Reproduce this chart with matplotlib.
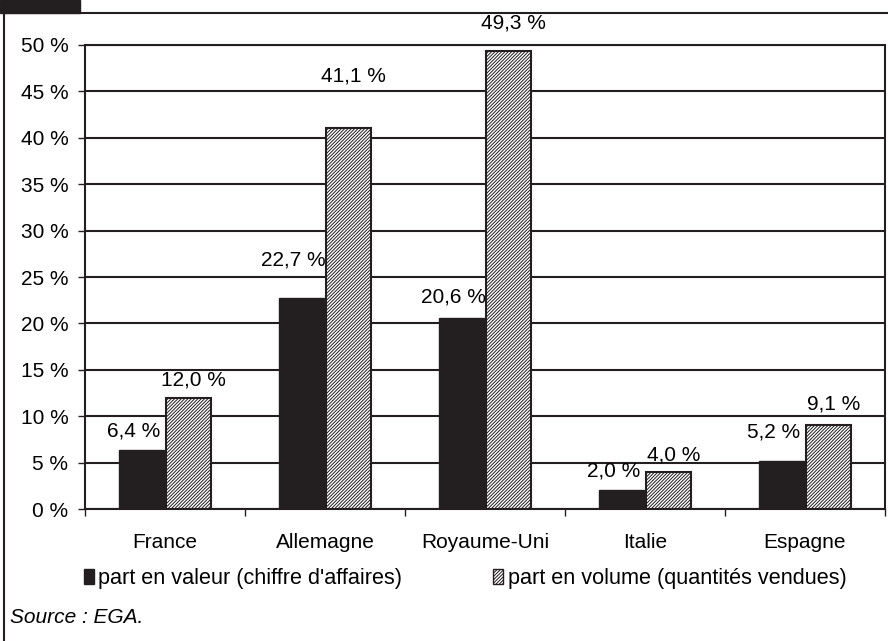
import matplotlib.pyplot as plt
import matplotlib.patches as mpatches
import numpy as np

plt.rcParams['font.family'] = ['Liberation Sans', 'DejaVu Sans']
plt.rcParams['hatch.linewidth'] = 0.7

pays = ['France', 'Allemagne', 'Royaume-Uni', 'Italie', 'Espagne']
part_valeur = [6.4, 22.7, 20.6, 2.0, 5.2]
part_volume = [12.0, 41.1, 49.3, 4.0, 9.1]
label_valeur = 'part en valeur (chiffre d\'affaires)'
label_volume = 'part en volume (quantités vendues)'
source = 'Source : EGA.'

# how far above each bar top the value label sits (points)
off_valeur = [6.5, 21, 8, 7, 14]
off_volume = [6, 30, 14, 5, 8]

dark = '#231f20'
fs = 15
hatch = '//////////'

fig = plt.figure(figsize=(8.88, 6.41), dpi=100)
ax = fig.add_axes([0.0957, 0.2059, 0.9009, 0.7239])

x = np.arange(len(pays))
w = 0.28
b1 = ax.bar(x - 0.147, part_valeur, w, color=dark, edgecolor=dark, linewidth=1, zorder=3)
b2 = ax.bar(x + 0.147, part_volume, w, color='white', edgecolor=dark, hatch=hatch,
            linewidth=1.5, zorder=3)

for bar, v, o in zip(b1, part_valeur, off_valeur):
    ax.annotate(f'{v:.1f} %'.replace('.', ','), (bar.get_x() + bar.get_width() / 2 - 0.05, v),
                xytext=(0, o), textcoords='offset points', ha='center', va='bottom', fontsize=fs)
for bar, v, o in zip(b2, part_volume, off_volume):
    ax.annotate(f'{v:.1f} %'.replace('.', ','), (bar.get_x() + bar.get_width() / 2 + 0.03, v),
                xytext=(0, o), textcoords='offset points', ha='center', va='bottom', fontsize=fs)

ax.set_xlim(-0.5, len(pays) - 0.5)
ax.set_ylim(0, 50)
ax.set_yticks(range(0, 51, 5))
ax.set_yticklabels([f'{t} %' for t in range(0, 51, 5)], fontsize=fs)
ax.grid(axis='y', color=dark, linewidth=1.5, zorder=1)
ax.set_axisbelow(True)

ax.set_xticks(x)
ax.set_xticklabels(pays, fontsize=fs)
ax.tick_params(axis='x', length=0, pad=17)
ax.set_xticks(np.arange(-0.5, len(pays)), minor=True)
ax.tick_params(axis='x', which='minor', length=5, width=1, color=dark)
ax.tick_params(axis='y', length=5, width=1, color=dark, pad=7)

for s in ax.spines.values():
    s.set_color(dark)
    s.set_linewidth(1.5)

# legend
h1 = mpatches.Patch(facecolor=dark, edgecolor=dark)
h2 = mpatches.Patch(facecolor='white', edgecolor=dark, hatch=hatch)
fig.legend([h1, h2], [label_valeur, label_volume], ncol=2, loc='center left',
           bbox_to_anchor=(0.095, 0.098), frameon=False, fontsize=15.6,
           handlelength=0.45, handleheight=0.7, handletextpad=0.2, columnspacing=4.2,
           borderaxespad=0, borderpad=0)

fig.text(0.011, 0.037, source, fontsize=fs, style='italic', va='center')

# frame and header tab
fig.add_artist(plt.Line2D([0.005, 0.005], [0, 0.979], color=dark, linewidth=1.5))
fig.add_artist(plt.Line2D([0.005, 1.0], [0.979, 0.979], color=dark, linewidth=1.5))
fig.add_artist(mpatches.Rectangle((0, 0.979), 0.09, 0.021, color=dark, transform=fig.transFigure))

fig.savefig('out.png', dpi=100)
